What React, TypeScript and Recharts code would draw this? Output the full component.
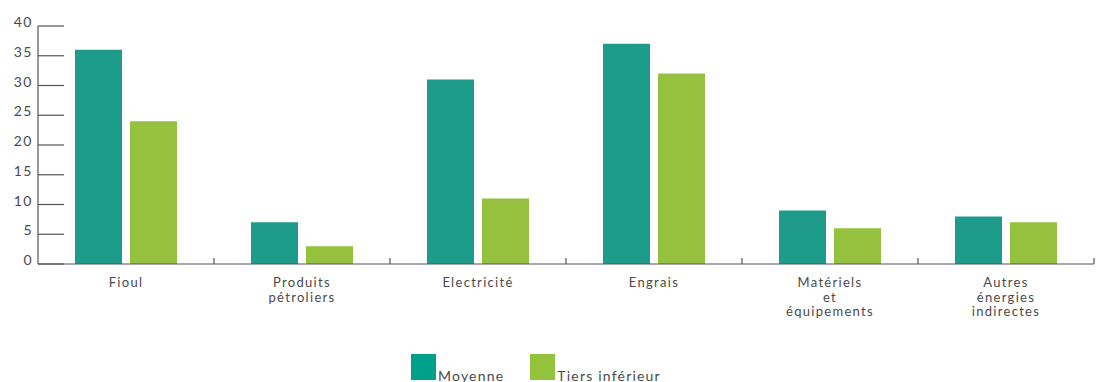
import React from 'react';
import { BarChart, Bar, XAxis, YAxis } from 'recharts';

const categories = [
  'Fioul',
  'Produits\npétroliers',
  'Electricité',
  'Engrais',
  'Matériels\net\néquipements',
  'Autres\nénergies\nindirectes',
];
const moyenne = [36, 7, 31, 37, 9, 8];
const tiersInferieur = [24, 3, 11, 32, 6, 7];
const yTicks = [0, 5, 10, 15, 20, 25, 30, 35, 40];

const data = categories.map((name, i) => ({
  name,
  moyenne: moyenne[i],
  tiers: tiersInferieur[i],
}));

const FONT = 'Lato, "Noto Sans", sans-serif';
const TEXT = '#4a4a4a';
const AXIS = '#555';
const TEAL = '#1f9b8b';
const GREEN = '#96c13e';

// y ticks: label to the left, short line running into the plot
const YTick = ({ x, y, payload }: any) => (
  <g>
    <line x1={x} x2={x + 26} y1={y} y2={y} stroke={AXIS} strokeWidth={1.2} />
    <text
      x={x - 5}
      y={y + 1}
      textAnchor="end"
      fontFamily={FONT}
      fontSize={14}
      letterSpacing={1.5}
      fill={TEXT}
    >
      {payload.value}
    </text>
  </g>
);

// x ticks: multi-line label under the band, small tick at the band's right edge
const XTick = ({ x, y, payload, bandSize }: any) => {
  const lines = String(payload.value).split('\n');
  const half = (bandSize ?? 176) / 2;
  return (
    <g>
      <line x1={x + half} x2={x + half} y1={y - 6} y2={y} stroke={AXIS} strokeWidth={1.2} />
      {lines.map((l, i) => (
        <text
          key={i}
          x={x}
          y={y + 23 + i * 14.5}
          textAnchor="middle"
          fontFamily={FONT}
          fontSize={13}
          letterSpacing={1.3}
          fill={TEXT}
        >
          {l}
        </text>
      ))}
    </g>
  );
};

const LegendBox = () => (
  <div
    style={{
      position: 'absolute',
      left: 411,
      top: 354,
      display: 'flex',
      alignItems: 'flex-end',
      fontFamily: FONT,
      fontSize: 14,
      letterSpacing: 1.2,
      color: TEXT,
      lineHeight: '14px',
    }}
  >
    <div style={{ width: 25, height: 26, background: '#00a08a' }} />
    <span style={{ marginLeft: 2, marginRight: 26, marginBottom: -3 }}>Moyenne</span>
    <div style={{ width: 25, height: 26, background: '#95c23d' }} />
    <span style={{ marginLeft: 2, marginBottom: -3 }}>Tiers inférieur</span>
  </div>
);

export default function App() {
  return (
    <div style={{ position: 'absolute', left: 0, top: 0, width: 1102, height: 382, background: '#fff' }}>
      <BarChart
        width={1102}
        height={382}
        data={data}
        margin={{ top: 26, right: 8, left: 0, bottom: 48 }}
        barCategoryGap={37}
        barGap={8}
      >
        <XAxis
          dataKey="name"
          interval={0}
          axisLine={{ stroke: AXIS, strokeWidth: 1.2 }}
          tickLine={false}
          tickSize={0}
          tickMargin={0}
          height={70}
          tick={<XTick />}
        />
        <YAxis
          width={38}
          domain={[0, 40]}
          ticks={yTicks}
          interval={0}
          axisLine={{ stroke: AXIS, strokeWidth: 1.2 }}
          tickLine={false}
          tickSize={0}
          tickMargin={0}
          tick={<YTick />}
        />
        <Bar dataKey="moyenne" name="Moyenne" fill={TEAL} isAnimationActive={false} />
        <Bar dataKey="tiers" name="Tiers inférieur" fill={GREEN} isAnimationActive={false} />
      </BarChart>
      <LegendBox />
    </div>
  );
}
